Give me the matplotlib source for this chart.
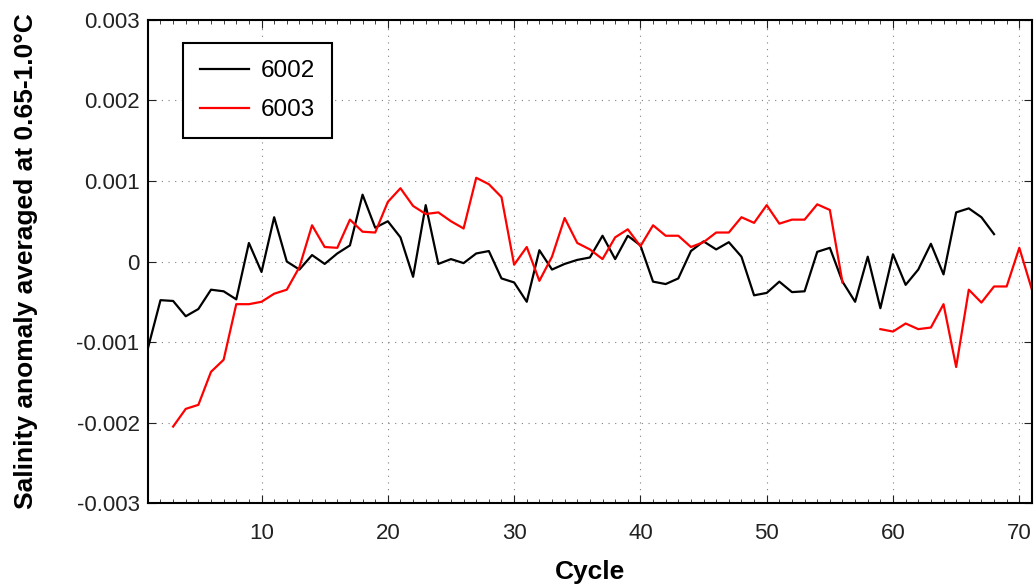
import numpy as np
import matplotlib.pyplot as plt
from matplotlib.ticker import FuncFormatter, MultipleLocator

plt.rcParams.update({'font.family': 'Liberation Sans', 'font.size': 16})

# cycles 1..68 for run 6002
cycles_6002 = list(range(1, 69))
sal_6002 = [-0.00108, -0.00048, -0.00049, -0.00068, -0.00059, -0.00035, -0.00037, -0.00047, 0.00023, -0.00013,
            0.00055, 0.00000, -0.00010, 0.00008, -0.00003, 0.00010, 0.00020, 0.00083, 0.00042, 0.00050,
            0.00030, -0.00019, 0.00070, -0.00003, 0.00003, -0.00002, 0.00010, 0.00013, -0.00021, -0.00026,
            -0.00050, 0.00014, -0.00010, -0.00003, 0.00002, 0.00005, 0.00032, 0.00003, 0.00032, 0.00020,
            -0.00025, -0.00028, -0.00021, 0.00013, 0.00025, 0.00015, 0.00024, 0.00006, -0.00042, -0.00039,
            -0.00025, -0.00038, -0.00037, 0.00012, 0.00017, -0.00025, -0.00050, 0.00006, -0.00058, 0.00009,
            -0.00029, -0.00010, 0.00022, -0.00016, 0.00061, 0.00066, 0.00055, 0.00034]

# cycles 3..71 for run 6003 (no values at 57 and 58)
cycles_6003 = list(range(3, 72))
sal_6003 = [-0.00205, -0.00183, -0.00178, -0.00137, -0.00122, -0.00053, -0.00053, -0.00050,
            -0.00040, -0.00035, -0.00007, 0.00045, 0.00018, 0.00017, 0.00052, 0.00037, 0.00036, 0.00074,
            0.00091, 0.00069, 0.00059, 0.00061, 0.00050, 0.00041, 0.00104, 0.00096, 0.00080, -0.00004,
            0.00018, -0.00024, 0.00006, 0.00054, 0.00023, 0.00015, 0.00003, 0.00030, 0.00040, 0.00019,
            0.00045, 0.00032, 0.00032, 0.00018, 0.00024, 0.00036, 0.00036, 0.00055, 0.00048, 0.00070,
            0.00047, 0.00052, 0.00052, 0.00071, 0.00064, -0.00026, np.nan, np.nan, -0.00084, -0.00087,
            -0.00077, -0.00084, -0.00082, -0.00053, -0.00131, -0.00035, -0.00051, -0.00031, -0.00031,
            0.00017, -0.00035]

fig = plt.figure(figsize=(10.34, 5.87), dpi=100)
ax = fig.add_axes([0.143, 0.143, 0.855, 0.823])

ax.plot(cycles_6002, sal_6002, color='black', lw=1.6, label='6002')
ax.plot(cycles_6003, sal_6003, color='red', lw=1.6, label='6003')

ax.set_xlim(1, 71)
ax.set_ylim(-0.003, 0.003)
ax.set_xticks([10, 20, 30, 40, 50, 60, 70])
ax.xaxis.set_minor_locator(MultipleLocator(1))
ax.set_yticks([-0.003, -0.002, -0.001, 0, 0.001, 0.002, 0.003])


def fmt(v, pos):
    if abs(v) < 1e-12:
        return '0'
    return '%.3f' % v


ax.yaxis.set_major_formatter(FuncFormatter(fmt))
ax.grid(True, linestyle=(0, (1, 5)), color='gray', lw=0.8)
ax.tick_params(which='major', direction='in', length=6, top=True, right=True, labelsize=16, colors='#222222')
ax.tick_params(which='minor', direction='in', length=3, top=True, colors='#222222')
ax.tick_params(axis='x', pad=14)
ax.tick_params(axis='y', pad=6)
for s in ax.spines.values():
    s.set_linewidth(1.5)

ax.set_xlabel('Cycle', fontsize=19, fontweight='bold', labelpad=12)
ax.set_ylabel('Salinity anomaly averaged at 0.65-1.0°C', fontsize=19, fontweight='bold', labelpad=28)

leg = ax.legend(loc='upper left', bbox_to_anchor=(0.04, 0.952), borderaxespad=0, fontsize=17.5,
                fancybox=False, edgecolor='black', framealpha=1, borderpad=0.7, labelspacing=0.7,
                handlelength=2.0, handletextpad=0.5)
leg.get_frame().set_linewidth(1.5)

plt.savefig('out.png')
